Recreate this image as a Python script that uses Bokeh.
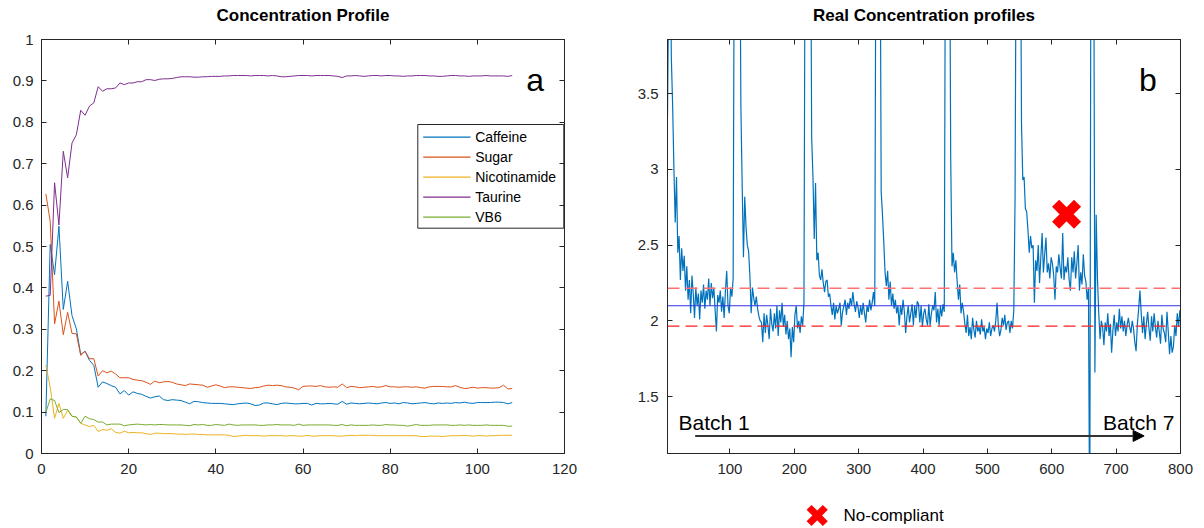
import numpy as np
from bokeh.plotting import figure
from bokeh.models import (Range1d, LinearAxis, FixedTicker, NumeralTickFormatter,
                          Span, Arrow, NormalHead, Label, Spacer, CustomLabelingPolicy)
from bokeh.layouts import row, column
from bokeh.embed import file_html
from bokeh.resources import INLINE
from bokeh.core.properties import value

FONT = "Liberation Sans"
AX = "#262626"

# ---------------- data: panel a (concentration profile) ----------------
series_names = ["Caffeine", "Sugar", "Nicotinamide", "Taurine", "VB6"]
series_colors = ["#0072BD", "#D95319", "#EDB120", "#7E2F8E", "#77AC30"]

caffeine = [0.090, 0.505, 0.432, 0.549, 0.348, 0.416, 0.333, 0.301, 0.239, 0.247,
            0.225, 0.213, 0.160, 0.173, 0.169, 0.164, 0.160, 0.144, 0.152, 0.141,
            0.149, 0.145, 0.143, 0.138, 0.134, 0.137, 0.139, 0.130, 0.128, 0.130,
            0.129, 0.128, 0.124, 0.120, 0.126, 0.125, 0.123, 0.122, 0.121, 0.121,
            0.121, 0.120, 0.119, 0.118, 0.120, 0.121, 0.122, 0.120, 0.116, 0.117,
            0.122, 0.122, 0.120, 0.118, 0.121, 0.122, 0.121, 0.120, 0.120, 0.121,
            0.121, 0.117, 0.121, 0.120, 0.120, 0.121, 0.120, 0.119, 0.126, 0.119,
            0.122, 0.121, 0.120, 0.121, 0.122, 0.121, 0.120, 0.122, 0.123, 0.121,
            0.122, 0.120, 0.123, 0.122, 0.120, 0.121, 0.122, 0.123, 0.121, 0.120,
            0.122, 0.121, 0.122, 0.121, 0.123, 0.122, 0.124, 0.122, 0.121, 0.123,
            0.123, 0.123, 0.123, 0.124, 0.124, 0.123, 0.120, 0.123]
sugar = [0.627, 0.561, 0.313, 0.368, 0.287, 0.341, 0.290, 0.289, 0.237, 0.247,
         0.229, 0.229, 0.187, 0.200, 0.195, 0.199, 0.192, 0.183, 0.183, 0.183,
         0.179, 0.177, 0.176, 0.172, 0.167, 0.175, 0.171, 0.173, 0.174, 0.172,
         0.168, 0.166, 0.164, 0.168, 0.167, 0.166, 0.165, 0.160, 0.163, 0.166,
         0.163, 0.159, 0.161, 0.161, 0.160, 0.159, 0.158, 0.157, 0.159, 0.160,
         0.163, 0.165, 0.164, 0.165, 0.164, 0.161, 0.160, 0.158, 0.154, 0.162,
         0.163, 0.163, 0.162, 0.164, 0.161, 0.160, 0.161, 0.160, 0.168, 0.159,
         0.162, 0.161, 0.159, 0.160, 0.161, 0.162, 0.160, 0.161, 0.164, 0.161,
         0.161, 0.160, 0.161, 0.161, 0.160, 0.161, 0.159, 0.158, 0.161, 0.162,
         0.162, 0.162, 0.161, 0.161, 0.164, 0.160, 0.157, 0.158, 0.160, 0.158,
         0.159, 0.159, 0.158, 0.158, 0.159, 0.165, 0.156, 0.157]
nicotinamide = [0.214, 0.160, 0.085, 0.121, 0.085, 0.104, 0.090, 0.088, 0.073, 0.069,
                0.065, 0.068, 0.053, 0.058, 0.056, 0.060, 0.051, 0.049, 0.054, 0.050,
                0.051, 0.050, 0.050, 0.048, 0.046, 0.049, 0.049, 0.048, 0.048, 0.048,
                0.047, 0.047, 0.046, 0.047, 0.047, 0.046, 0.046, 0.045, 0.045, 0.045,
                0.045, 0.045, 0.044, 0.041, 0.042, 0.043, 0.044, 0.043, 0.043, 0.043,
                0.042, 0.043, 0.043, 0.043, 0.043, 0.042, 0.043, 0.043, 0.042, 0.042,
                0.044, 0.042, 0.042, 0.043, 0.043, 0.043, 0.043, 0.042, 0.042, 0.043,
                0.044, 0.043, 0.044, 0.044, 0.044, 0.044, 0.043, 0.043, 0.043, 0.043,
                0.043, 0.043, 0.043, 0.043, 0.043, 0.043, 0.041, 0.041, 0.042, 0.042,
                0.042, 0.041, 0.042, 0.043, 0.043, 0.043, 0.044, 0.043, 0.042, 0.043,
                0.043, 0.042, 0.043, 0.043, 0.044, 0.044, 0.044, 0.044]
taurine = [0.380, 0.382, 0.654, 0.552, 0.730, 0.666, 0.750, 0.770, 0.829, 0.817,
           0.839, 0.847, 0.886, 0.875, 0.881, 0.881, 0.883, 0.895, 0.891, 0.895,
           0.895, 0.898, 0.898, 0.903, 0.903, 0.901, 0.904, 0.905, 0.905, 0.906,
           0.908, 0.910, 0.910, 0.910, 0.909, 0.909, 0.910, 0.910, 0.911, 0.911,
           0.911, 0.912, 0.912, 0.913, 0.913, 0.913, 0.913, 0.912, 0.913, 0.913,
           0.913, 0.912, 0.913, 0.912, 0.910, 0.910, 0.911, 0.912, 0.913, 0.913,
           0.913, 0.912, 0.913, 0.913, 0.913, 0.913, 0.912, 0.911, 0.908, 0.912,
           0.912, 0.913, 0.912, 0.911, 0.912, 0.913, 0.913, 0.912, 0.913, 0.913,
           0.912, 0.912, 0.911, 0.912, 0.912, 0.913, 0.913, 0.913, 0.912, 0.912,
           0.911, 0.911, 0.912, 0.913, 0.913, 0.912, 0.912, 0.911, 0.912, 0.912,
           0.912, 0.913, 0.912, 0.912, 0.912, 0.912, 0.911, 0.913]
vb6 = [0.099, 0.132, 0.128, 0.099, 0.106, 0.106, 0.090, 0.088, 0.073, 0.090,
       0.084, 0.082, 0.076, 0.076, 0.069, 0.071, 0.071, 0.071, 0.067, 0.069,
       0.070, 0.071, 0.070, 0.069, 0.070, 0.069, 0.070, 0.070, 0.069, 0.069,
       0.069, 0.069, 0.068, 0.067, 0.070, 0.069, 0.070, 0.068, 0.068, 0.070,
       0.069, 0.068, 0.071, 0.069, 0.068, 0.069, 0.069, 0.069, 0.069, 0.068,
       0.068, 0.069, 0.069, 0.070, 0.069, 0.069, 0.069, 0.068, 0.071, 0.068,
       0.069, 0.069, 0.069, 0.069, 0.069, 0.069, 0.068, 0.068, 0.070, 0.067,
       0.069, 0.068, 0.068, 0.068, 0.068, 0.069, 0.068, 0.068, 0.070, 0.069,
       0.069, 0.068, 0.068, 0.066, 0.068, 0.070, 0.068, 0.068, 0.068, 0.069,
       0.069, 0.069, 0.069, 0.068, 0.068, 0.069, 0.068, 0.069, 0.068, 0.068,
       0.068, 0.069, 0.068, 0.068, 0.068, 0.068, 0.066, 0.066]
series_a = [caffeine, sugar, nicotinamide, taurine, vb6]
sample_a = np.arange(1, len(caffeine) + 1)

a_xticks = [0, 20, 40, 60, 80, 100, 120]
a_yticks = [0, 0.1, 0.2, 0.3, 0.4, 0.5, 0.6, 0.7, 0.8, 0.9, 1]

# ---------------- data: panel b (real concentration profile), every 2nd sample ----------------
real_conc = [
    3.34, 3.34, 4.3, 4.5, 3.73, 3.42, 3.0, 2.65, 2.95, 2.45,
    2.56, 2.27, 2.48, 2.33, 2.43, 2.2, 2.36, 2.14, 2.27, 2.05,
    2.3, 2.18, 2.02, 2.22, 2.1, 2.18, 2.01, 2.2, 2.12, 2.24,
    2.08, 2.2, 2.14, 2.28, 2.1, 2.25, 2.15, 2.22, 2.07, 1.93,
    2.17, 2.12, 2.2, 2.06, 2.16, 2.02, 2.2, 2.33, 2.1, 2.05,
    2.22, 2.16, 2.28, 5.0, 5.0, 5.0, 5.0, 5.0, 3.42, 2.9,
    2.42, 2.82, 2.62, 2.5, 2.46, 2.3, 2.05, 2.22, 2.15, 2.1,
    2.16, 2.08, 2.03, 2.0, 1.99, 1.86, 2.05, 1.92, 2.04, 1.97,
    1.88, 2.08, 1.98, 1.93, 2.05, 1.95, 2.1, 1.9, 2.07, 1.99,
    2.12, 1.96, 2.04, 1.91, 2.0, 1.88, 1.95, 1.76, 1.96, 1.86,
    2.04, 2.1, 1.95, 2.0, 1.92, 2.03, 1.97, 2.12, 5.0, 5.0,
    5.0, 5.0, 5.0, 3.21, 2.95, 2.54, 2.91, 2.4, 2.45, 2.3,
    2.27, 2.34, 2.25, 2.19, 2.26, 2.27, 2.16, 2.18, 2.1, 2.04,
    2.12, 2.01, 2.1, 2.05, 2.08, 2.12, 1.97, 2.06, 2.1, 2.14,
    2.04, 2.12, 2.08, 2.15, 2.1, 2.19, 2.11, 2.06, 2.13, 2.09,
    2.02, 2.1, 2.04, 2.12, 2.05, 1.99, 2.1, 2.06, 2.14, 2.07,
    2.12, 2.19, 2.1, 5.0, 5.0, 5.0, 5.0, 2.85, 2.7, 2.52,
    2.32, 2.23, 2.33, 2.14, 2.26, 2.1, 2.18, 2.08, 2.14, 2.05,
    2.1, 1.97, 2.1, 2.04, 2.14, 2.06, 1.92, 2.03, 2.1, 1.99,
    2.05, 2.11, 1.97, 2.1, 2.02, 2.13, 2.11, 1.99, 2.1, 1.96,
    2.05, 2.08, 2.01, 1.97, 2.11, 1.97, 2.05, 2.1, 2.07, 2.19,
    1.99, 2.08, 1.97, 2.1, 2.03, 2.11, 2.06, 5.0, 5.0, 5.0,
    5.0, 3.07, 2.36, 2.45, 2.32, 2.4, 2.26, 2.14, 2.24, 2.05,
    2.12, 2.06, 1.98, 1.92, 2.04, 1.9, 1.96, 1.88, 2.02, 1.94,
    1.89, 2.0, 1.93, 1.96, 1.91, 2.01, 1.93, 1.96, 1.88, 1.95,
    1.92, 1.99, 1.9, 1.95, 1.97, 1.93, 2.0, 2.12, 1.97, 1.9,
    1.94, 2.02, 1.97, 2.04, 1.94, 1.99, 2.0, 1.92, 2.0, 1.95,
    2.07, 2.82, 5.0, 5.0, 5.0, 5.0, 3.3, 2.93, 2.95, 2.74,
    2.72, 2.6, 2.45, 2.56, 2.48, 2.5, 2.12, 2.4, 2.33, 2.5,
    2.25, 2.42, 2.58, 2.32, 2.44, 2.55, 2.32, 2.38, 2.28, 2.42,
    2.38, 2.3, 2.14, 2.36, 2.32, 2.44, 2.35, 2.28, 2.58, 2.27,
    2.36, 2.32, 2.42, 2.27, 2.2, 2.42, 2.32, 2.46, 2.28, 2.38,
    2.5, 2.2, 2.32, 2.24, 2.44, 2.3, 2.26, 2.14, 2.22, 0.5,
    5.0, 5.0, 5.0, 1.66, 2.7, 2.28, 2.05, 1.88, 2.0, 1.96,
    1.84, 1.99, 1.93, 2.05, 1.9, 1.98, 1.79, 1.94, 2.04, 1.9,
    1.99, 1.93, 2.08, 1.95, 2.03, 1.93, 2.0, 1.9, 1.97, 2.02,
    1.96, 1.92, 2.0, 1.95, 1.86, 1.8, 1.98, 2.08, 2.2, 2.05,
    1.92, 2.03, 1.88, 1.98, 2.06, 1.95, 1.87, 2.03, 1.93, 2.05,
    1.96, 1.89, 2.0, 1.93, 1.85, 2.04, 1.95, 1.92, 1.86, 2.06,
    1.93, 1.78, 1.9, 1.79, 1.83, 1.97, 1.9, 2.05, 1.96, 2.07,
]
sample_b = np.arange(1, 2 * len(real_conc), 2)

mean_level = 2.10
upper_limit = 2.215
lower_limit = 1.965
noncompliant_x = [623]
noncompliant_y = [2.704]

b_xticks = [100, 200, 300, 400, 500, 600, 700, 800]
b_yticks = [1.5, 2, 2.5, 3, 3.5]

NO_LABELS = "for (const i of indices) { indices.unset(i) }\nreturn indices"

# frame geometry (pixels)
FRAME_W, FRAME_H = 523, 414
A_X = (0, 120)
A_Y = (0, 1)


def style_axis(ax, ticks, labels=True, fmt=None, standoff=8):
    ax.ticker = FixedTicker(ticks=ticks)
    ax.axis_line_color = AX
    ax.axis_line_width = 1
    ax.major_tick_line_color = AX
    ax.major_tick_in = 5
    ax.major_tick_out = 0
    ax.minor_tick_line_color = None
    ax.major_label_text_font = FONT
    ax.major_label_text_color = AX
    ax.major_label_text_font_size = "15px"
    if fmt is not None:
        ax.formatter = fmt
    if labels:
        ax.major_label_standoff = standoff
    else:
        ax.major_label_standoff = 0
        ax.major_label_policy = CustomLabelingPolicy(code=NO_LABELS)


def style_fig(p):
    p.grid.visible = False
    p.outline_line_color = AX
    p.background_fill_color = "white"
    p.border_fill_color = "white"
    p.title.text_font = FONT
    p.title.text_font_size = "17px"
    p.title.text_font_style = "bold"
    p.title.text_color = "black"
    p.title.align = "center"
    p.title.standoff = 4


def ax_x(px):  # pixel offset from frame left -> data x (panel a)
    return A_X[0] + px / FRAME_W * (A_X[1] - A_X[0])


def ax_y(py):  # pixel offset from frame top -> data y (panel a)
    return A_Y[1] - py / FRAME_H * (A_Y[1] - A_Y[0])


# ---------------- panel a ----------------
p1 = figure(width=628, height=483, x_range=Range1d(*A_X), y_range=Range1d(*A_Y),
            output_backend="svg", toolbar_location=None, title="Concentration Profile",
            min_border_left=41, min_border_right=64, min_border_top=39, min_border_bottom=30)
style_fig(p1)
style_axis(p1.xaxis[0], a_xticks, standoff=10)
style_axis(p1.yaxis[0], a_yticks, fmt=NumeralTickFormatter(format="0.[0]"), standoff=8)
top1 = LinearAxis()
right1 = LinearAxis()
p1.add_layout(top1, "above")
p1.add_layout(right1, "right")
style_axis(top1, a_xticks, labels=False)
style_axis(right1, a_yticks, labels=False)

for col, ys in zip(series_colors, series_a):
    p1.line(sample_a, ys, line_color=col, line_width=1)

# legend box (drawn with glyphs, placed in frame pixels)
LEG_L, LEG_R, LEG_T, LEG_B = 376.3, 522.3, 85.0, 188.7
KEY_X0, KEY_X1, LBL_X = 381.7, 429.0, 433.7
ROW0, ROW_STEP = 97.7, 20.0
p1.quad(left=[ax_x(LEG_L)], right=[ax_x(LEG_R)], top=[ax_y(LEG_T)], bottom=[ax_y(LEG_B)],
        fill_color="white", line_color=AX, line_width=1)
rows_y = [ax_y(ROW0 + i * ROW_STEP) for i in range(len(series_names))]
p1.multi_line(xs=[[ax_x(KEY_X0), ax_x(KEY_X1)] for _ in series_names],
              ys=[[yy, yy] for yy in rows_y], line_color=series_colors, line_width=1.2)
p1.text(x=[ax_x(LBL_X)] * len(series_names), y=rows_y, text=series_names,
        text_font=value(FONT), text_font_size="14px", text_baseline="middle",
        text_color="black")

p1.add_layout(Label(x=111.2, y=0.901, text="a", text_font=FONT, text_font_size="32px",
                    text_baseline="alphabetic", text_color="black"))

# ---------------- panel b ----------------
p2 = figure(width=576, height=483, x_range=Range1d(3, 800), y_range=Range1d(1.125, 3.857),
            output_backend="svg", toolbar_location=None, title="Real Concentration profiles",
            min_border_left=39, min_border_right=14, min_border_top=39, min_border_bottom=30)
style_fig(p2)
style_axis(p2.xaxis[0], b_xticks, standoff=10)
style_axis(p2.yaxis[0], b_yticks, fmt=NumeralTickFormatter(format="0.[0]"), standoff=9)
top2 = LinearAxis()
right2 = LinearAxis()
p2.add_layout(top2, "above")
p2.add_layout(right2, "right")
style_axis(top2, b_xticks, labels=False)
style_axis(right2, b_yticks, labels=False)

p2.line(sample_b, real_conc, line_color="#0072BD", line_width=1.2)
p2.add_layout(Span(location=upper_limit, dimension="width", line_color="#ff7070",
                   line_width=1.6, line_dash="12 6"))
p2.add_layout(Span(location=lower_limit, dimension="width", line_color="#ff2020",
                   line_width=1.2, line_dash="12 6"))
p2.add_layout(Span(location=mean_level, dimension="width", line_color="#3333e6",
                   line_width=1))
p2.scatter(noncompliant_x, noncompliant_y, marker="x", size=31, line_color="#ff0000",
           line_width=10)
p2.add_layout(Arrow(end=NormalHead(size=11, fill_color="black", line_color="black"),
                    x_start=46, y_start=1.241, x_end=743.5, y_end=1.241,
                    line_color="#333333", line_width=2))
p2.add_layout(Label(x=20, y=1.332, text="Batch 1", text_font=FONT, text_font_size="21px",
                    text_baseline="alphabetic", text_color="black"))
p2.add_layout(Label(x=790.4, y=1.332, text="Batch 7", text_font=FONT, text_font_size="21px",
                    text_baseline="alphabetic", text_align="right", text_color="black"))
p2.add_layout(Label(x=735.5, y=3.592, text="b", text_font=FONT, text_font_size="32px",
                    text_baseline="alphabetic", text_color="black"))

# ---------------- bottom legend ----------------
p3 = figure(width=200, height=45, x_range=Range1d(0, 200), y_range=Range1d(0, 45),
            output_backend="svg", toolbar_location=None, min_border=0,
            x_axis_location=None, y_axis_location=None)
p3.grid.visible = False
p3.outline_line_color = None
p3.scatter([56.7], [13], marker="x", size=23, line_color="#ff0000", line_width=7)
p3.text([83], [13], text=["No-compliant"], text_font=value(FONT), text_font_size="17px",
        text_baseline="middle", text_color="black")

layout = column(row(p1, p2), row(Spacer(width=760, height=45), p3))

with open("out.html", "w") as f:
    f.write(file_html(layout, INLINE))
